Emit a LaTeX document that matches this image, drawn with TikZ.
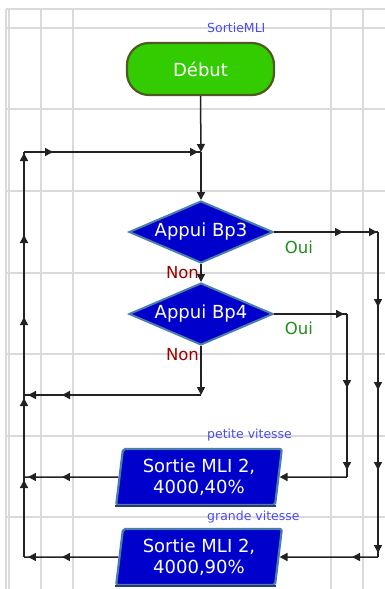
\documentclass[tikz,border=0pt]{standalone}
\usepackage{fontspec}
\setmainfont{DejaVu Sans}
\usetikzlibrary{shapes.geometric,arrows.meta,decorations.markings}
\definecolor{gridc}{HTML}{DADADA}
\definecolor{lbl}{HTML}{4B4BF0}
\definecolor{debutfill}{HTML}{33CC00}
\definecolor{debutedge}{HTML}{4F5A22}
\definecolor{bluefill}{HTML}{0000CC}
\definecolor{blueedge}{HTML}{4A7FA8}
\definecolor{darkedge}{HTML}{2E3A78}
\definecolor{ouic}{HTML}{1E8C1E}
\definecolor{nonc}{HTML}{9A0000}
\definecolor{linec}{HTML}{222222}
\begin{document}
\begin{tikzpicture}[x=1pt,y=-1pt,
  tipA/.tip={Triangle[length=8pt,width=8pt]},
  gridline/.style={draw=gridc,line width=1.3pt},
  conn/.style={draw=linec,line width=1.5pt},
  ah/.style={postaction={decorate,decoration={markings,mark=at position #1 with {\arrow{tipA}}}}},
  startbox/.style={rectangle,rounded corners=22pt,minimum width=147pt,minimum height=52pt,
    fill=debutfill,draw=debutedge,line width=2.2pt,text=white,font=\fontsize{18}{21}\selectfont},
  dec/.style={diamond,draw=blueedge,fill=bluefill,line width=2pt,minimum width=144pt,
    minimum height=62pt,inner sep=0pt,aspect=2.3,text=white,font=\fontsize{18}{21}\selectfont},
  outbox/.style={trapezium,trapezium left angle=83,trapezium right angle=97,
    trapezium stretches=true,minimum width=166pt,minimum height=56pt,draw=blueedge,
    fill=bluefill,line width=2.2pt,rounded corners=2pt,text=white,align=center,
    font=\fontsize{18}{21}\selectfont},
  smalllbl/.style={text=lbl,anchor=west,inner sep=0pt,font=\fontsize{12.5}{14}\selectfont},
  oui/.style={text=ouic,inner sep=0pt,font=\fontsize{16.5}{18}\selectfont},
  non/.style={text=nonc,inner sep=0pt,font=\fontsize{16.5}{18}\selectfont}]
\useasboundingbox (0,0) rectangle (385,589);
% grid
\foreach \y in {9,28,109,191,273,354,436,517} \draw[gridline] (6,\y) -- (385,\y);
\foreach \x in {6,9,41,73,331,363} \draw[gridline] (\x,9) -- (\x,589);
% coordinates
\coordinate (j0) at (201,152);
\coordinate (ctl) at (24,152);
\coordinate (cbl) at (24,557);
\coordinate (cl1) at (24,395);
\coordinate (cl2) at (24,477);
\coordinate (j1) at (201,395);
\coordinate (r1) at (378,232);
\coordinate (r2) at (378,557);
\coordinate (r3) at (347,314);
\coordinate (r4) at (347,477);
% nodes
\node[startbox] (debut) at (200.5,69) {Début};
\node[dec] (d1) at (201,232) {Appui Bp3};
\node[dec] (d2) at (201,314) {Appui Bp4};
\node[outbox] (b1) at (199,477) {Sortie MLI 2,\\4000,40\%};
\node[outbox] (b2) at (199,557) {Sortie MLI 2,\\4000,90\%};
\draw[darkedge,line width=2.2pt] (b1.bottom left corner) -- (b1.bottom right corner);
\draw[darkedge,line width=2.2pt] (b2.bottom left corner) -- (b2.bottom right corner);
\node[smalllbl] (t0) at (207,28) {SortieMLI};
\node[smalllbl] (t1) at (207,435) {petite vitesse};
\node[smalllbl] (t2) at (207,517) {grande vitesse};
\node[oui] (o1) at (299,247) {Oui};
\node[oui] (o2) at (299,328) {Oui};
\node[non] (n1) at (182.5,273) {Non};
\node[non] (n2) at (182.5,355) {Non};
% connectors
\draw[conn,-tipA] (debut.south) -- (j0);
\draw[conn,-tipA] (j0) -- (d1.north);
\draw[conn,-tipA] (d1.south) -- (d2.north);
\draw[conn,ah=-38pt,ah=-4pt] (b2.west) -- (cbl);
\draw[conn,ah=77pt,ah=159pt,ah=240pt,ah=322pt,ah=-1pt] (cbl) -- (ctl);
\draw[conn,ah=29pt,ah=-3pt] (ctl) -- (j0);
\draw[conn,ah=-38pt,ah=-4pt] (b1.west) -- (cl2);
\draw[conn,-tipA] (d2.south) -- (j1);
\draw[conn,ah=-38pt,ah=-4pt] (j1) -- (cl1);
\draw[conn,ah=69pt,ah=-1pt] (d1.east) -- (r1);
\draw[conn,ah=75pt,ah=158pt,ah=238pt,ah=321pt] (r1) -- (r2);
\draw[conn,ah=26pt,-tipA] (r2) -- (b2.east);
\draw[conn,ah=-3pt] (d2.east) -- (r3);
\draw[conn,ah=74pt,ah=156pt] (r3) -- (r4);
\draw[conn,-tipA] (r4) -- (b1.east);
\end{tikzpicture}
\end{document}
